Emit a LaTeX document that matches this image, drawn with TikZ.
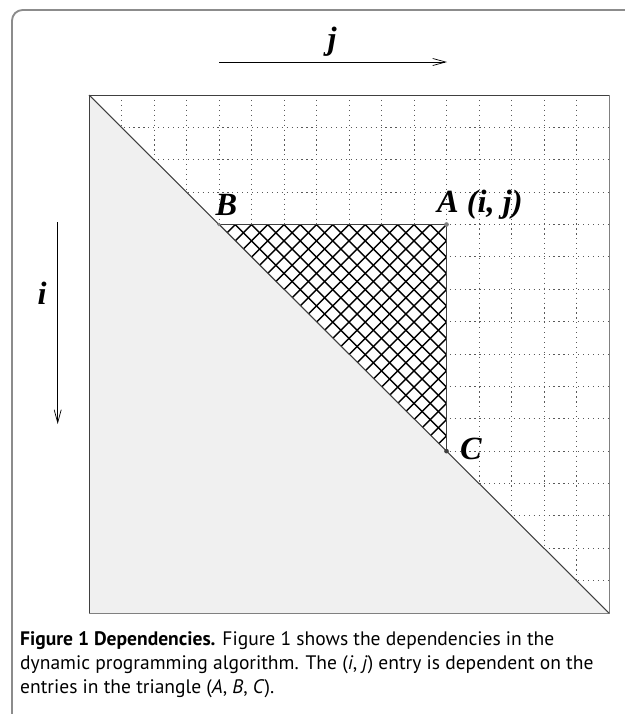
\documentclass[tikz,border=0pt]{standalone}
\usepackage{fontspec}
\setmainfont{Liberation Serif}
\setsansfont{PT Sans}
\usetikzlibrary{arrows.meta,calc,positioning}
\definecolor{frameGray}{gray}{0.55}
\definecolor{lowerFill}{gray}{0.94}
\definecolor{gridGray}{gray}{0.35}
\definecolor{edgeDark}{gray}{0.25}

\begin{document}
\begin{tikzpicture}[x=0.85pt, y=-0.85pt,
      lbl/.style={font=\fontsize{27.5}{27.5}\selectfont\bfseries\itshape, inner sep=0pt},
      gridline/.style={gridGray, dash pattern=on 1pt off 3.2pt, line width=0.7pt},
      axis/.style={-{Straight Barb[length=11pt, width=6pt, line width=0.6pt]}, line width=0.7pt},
      hatch/.style={line width=1.2pt, black},
      pt/.style={circle, fill=gray, inner sep=0pt, minimum size=4pt},
      caption/.style={font=\sffamily\fontsize{16.6}{20.4}\selectfont, align=left,
                      anchor=north west, inner sep=0pt}]

    \clip (0,0) rectangle (625,714);

    % frame
    \draw[frameGray, line width=1.6pt, rounded corners=9pt] (12,760) |- (680,10);

    % square corners
    \coordinate (tl) at (89,95);
    \coordinate (tr) at (609,95);
    \coordinate (bl) at (89,613);
    \coordinate (br) at (609,613);

    % grid
    \foreach \k in {1,...,15} {
      \draw[gridline] ($(tl)!\k/16!(tr)$) -- ($(bl)!\k/16!(br)$);
      \draw[gridline] ($(tl)!\k/16!(bl)$) -- ($(tr)!\k/16!(br)$);
    }
    \fill[lowerFill] (tl) -- (bl) -- (br) -- cycle;

    % dependency triangle
    \coordinate (A) at ($(tl)!11/16!(tr) + (0,4*32.375)$);
    \coordinate (B) at ($(tl)!4/16!(bl) + (4*32.5,0)$);
    \coordinate (C) at ($(tl)!11/16!(tr) + (0,11*32.375)$);

    \fill[white] (A) -- (B) -- (C) -- cycle;
    \begin{scope}
      \clip (A) -- (B) -- (C) -- cycle;
      \foreach \k in {0,...,30}
        \draw[hatch] ($(B)+(\k*16.25,0)$) -- ++(240,240)
                     ($(B)+(\k*16.25,0)$) -- ++(-240,240);
    \end{scope}
    \draw[edgeDark, line width=1pt] (B) -- (A) -- (C);

    % square outline and diagonal
    \draw[edgeDark, line width=0.8pt] (bl) -- (tl) -- (tr);
    \draw[gray, line width=0.8pt] (tr) -- (br) -- (bl);
    \draw[edgeDark, line width=0.9pt] (tl) -- (br);

    \node[pt] at (A) {};
    \node[pt, minimum size=3pt] at (B) {};
    \node[pt, fill=edgeDark] at (C) {};

    % point labels
    \node[lbl, anchor=base west] (labA) at (437,212) {A (i, j)};
    \node[lbl] (labB) at (226.5,205) {B};
    \node[lbl] (labC) at (471,449) {C};

    % index arrows
    \coordinate (j0) at (219,62);
    \coordinate (j1) at (447,62);
    \draw[axis] (j0) -- (j1);
    \node[lbl] (labj) at (332,42) {j};

    \coordinate (i0) at (57.7,222);
    \coordinate (i1) at (57.7,424);
    \draw[axis] (i0) -- (i1);
    \node[lbl] (labi) at (42,293) {i};

    % caption
    \node[caption] (cap) at (20,631)
      {\textbf{Figure 1 Dependencies.} Figure 1 shows the dependencies in the\\
       dynamic programming algorithm. The (\textit{i}, \textit{j}) entry is dependent on the\\
       entries in the triangle (\textit{A}, \textit{B}, \textit{C}).};
  \end{tikzpicture}
\end{document}
